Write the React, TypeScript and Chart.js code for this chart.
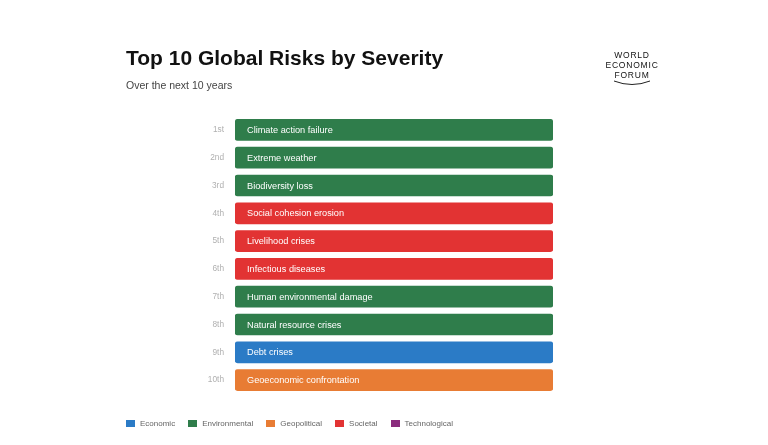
import React, { useEffect, useRef } from "react";
import { Chart, registerables } from "chart.js";

Chart.register(...registerables);

const ranks = ["1st", "2nd", "3rd", "4th", "5th", "6th", "7th", "8th", "9th", "10th"];
const risks = [
  "Climate action failure",
  "Extreme weather",
  "Biodiversity loss",
  "Social cohesion erosion",
  "Livelihood crises",
  "Infectious diseases",
  "Human environmental damage",
  "Natural resource crises",
  "Debt crises",
  "Geoeconomic confrontation",
];
const riskCategories = [
  "Environmental",
  "Environmental",
  "Environmental",
  "Societal",
  "Societal",
  "Societal",
  "Environmental",
  "Environmental",
  "Economic",
  "Geopolitical",
];
const values = [1, 1, 1, 1, 1, 1, 1, 1, 1, 1];
const legendCategories = ["Economic", "Environmental", "Geopolitical", "Societal", "Technological"];
const categoryColors: Record<string, string> = {
  Economic: "#2b7bc6",
  Environmental: "#2f7d4b",
  Geopolitical: "#e87c34",
  Societal: "#e23333",
  Technological: "#8a2c7d",
};

const FONT = "'Liberation Sans', Arial, Helvetica, sans-serif";

const barLabelPlugin = {
  id: "barLabels",
  afterDatasetsDraw(chart: any) {
    const ctx = chart.ctx;
    const meta = chart.getDatasetMeta(0);
    ctx.save();
    ctx.fillStyle = "#ffffff";
    ctx.font = `9.2px ${FONT}`;
    ctx.textBaseline = "middle";
    ctx.textAlign = "left";
    meta.data.forEach((bar: any, i: number) => {
      const left = Math.min(bar.base, bar.x);
      ctx.fillText(risks[i], left + 12, bar.y + 0.5);
    });
    ctx.restore();
  },
};

export default function App() {
  const canvasRef = useRef<HTMLCanvasElement | null>(null);

  useEffect(() => {
    if (!canvasRef.current) return;
    const chart = new Chart(canvasRef.current, {
      type: "bar",
      data: {
        labels: ranks,
        datasets: [
          {
            data: values,
            backgroundColor: riskCategories.map((c) => categoryColors[c]),
            borderRadius: 3,
            borderSkipped: false,
            barThickness: 21,
          },
        ],
      },
      options: {
        indexAxis: "y",
        animation: false,
        responsive: false,
        maintainAspectRatio: false,
        layout: { padding: { left: 0, right: 215, top: 116, bottom: 51 } },
        plugins: {
          legend: { display: false },
          tooltip: { enabled: false },
        },
        scales: {
          x: { display: false, min: 0, max: 1 },
          y: {
            grid: { display: false, drawTicks: false },
            border: { display: false },
            ticks: { color: "#b0b0b0", font: { size: 8.3, family: FONT }, padding: 11 },
            afterFit: (s: any) => {
              s.width = 235;
            },
          },
        },
      },
      plugins: [barLabelPlugin],
    });
    return () => chart.destroy();
  }, []);

  return (
    <div style={{ position: "fixed", left: 0, top: 0, width: 768, height: 445, background: "#fff", fontFamily: FONT, overflow: "hidden" }}>
      <canvas ref={canvasRef} width={768} height={445} style={{ position: "absolute", left: 0, top: 0, width: 768, height: 445 }} />
      <div style={{ position: "absolute", left: 126, top: 46, fontSize: 21, fontWeight: 700, color: "#111", whiteSpace: "nowrap" }}>
        Top 10 Global Risks by Severity
      </div>
      <div style={{ position: "absolute", left: 126, top: 79, fontSize: 10.5, color: "#444", whiteSpace: "nowrap" }}>
        Over the next 10 years
      </div>
      <div style={{ position: "absolute", left: 596, top: 50, width: 72, textAlign: "center", fontSize: 8.5, lineHeight: "10px", color: "#111", letterSpacing: 0.8, fontWeight: 500 }}>
        <div>WORLD</div>
        <div>ECONOMIC</div>
        <div>FORUM</div>
        <svg width="72" height="8" style={{ display: "block" }}>
          <path d="M 18 1 Q 36 8 54 1" stroke="#222" strokeWidth="1" fill="none" />
        </svg>
      </div>
      <div style={{ position: "absolute", left: 126, top: 419, display: "flex", alignItems: "center", fontSize: 8, color: "#666", whiteSpace: "nowrap" }}>
        {legendCategories.map((c) => (
          <div key={c} style={{ display: "flex", alignItems: "center", marginRight: 13 }}>
            <span style={{ display: "inline-block", width: 9, height: 7, background: categoryColors[c], marginRight: 5 }} />
            <span>{c}</span>
          </div>
        ))}
      </div>
    </div>
  );
}
